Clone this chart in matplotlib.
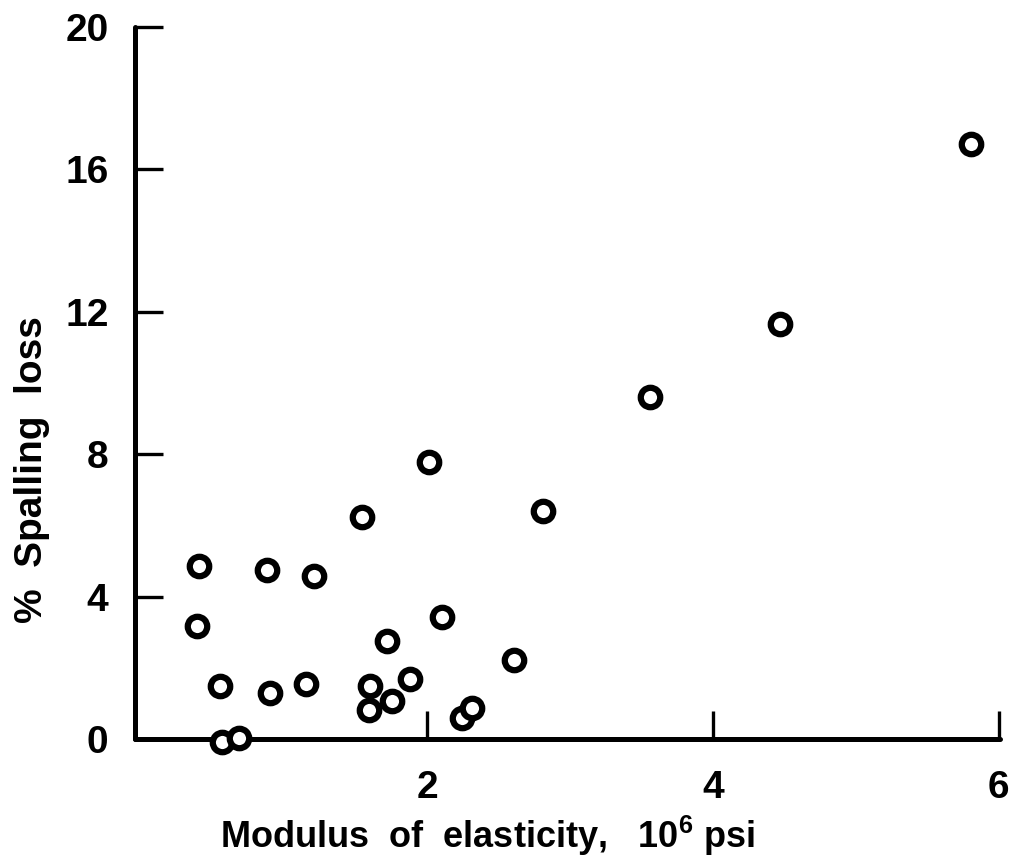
import matplotlib
matplotlib.use("Agg")
import matplotlib.pyplot as plt

# Data
modulus = [0.40, 0.39, 0.55, 0.56, 0.68, 0.88, 0.90, 1.15, 1.21, 1.54, 1.59, 1.60,
           1.75, 1.72, 1.88, 2.01, 2.10, 2.24, 2.31, 2.61, 2.81, 3.56, 4.47, 5.81]
spalling = [4.86, 3.17, 1.49, -0.08, 0.03, 4.75, 1.29, 1.54, 4.58, 6.24, 0.81, 1.49,
            1.07, 2.75, 1.69, 7.78, 3.43, 0.59, 0.87, 2.22, 6.40, 9.60, 11.66, 16.71]
xticks = [2, 4, 6]
yticks = [0, 4, 8, 12, 16, 20]

plt.rcParams['font.family'] = ['Liberation Sans', 'DejaVu Sans']
plt.rcParams['font.weight'] = 'bold'
plt.rcParams['mathtext.fontset'] = 'custom'
plt.rcParams['mathtext.rm'] = 'Liberation Sans:bold'
plt.rcParams['mathtext.bf'] = 'Liberation Sans:bold'
plt.rcParams['mathtext.default'] = 'rm'

fig = plt.figure(figsize=(10.17, 8.66), dpi=100)
ax = fig.add_axes([135/1017, 1 - 739/866, 865/1017, 712/866])

ax.plot(modulus, spalling, linestyle='none', marker='o', markersize=14,
        markerfacecolor='white', markeredgecolor='black', markeredgewidth=4.5,
        clip_on=False, zorder=3)

ax.set_xlim(-0.046, 6.01)
ax.set_ylim(0, 20)
ax.set_xticks(xticks)
ax.set_yticks(yticks)
ax.set_xticklabels([str(t) for t in xticks])
ax.set_yticklabels([str(t) for t in yticks])

for s in ['top', 'right']:
    ax.spines[s].set_visible(False)
for s in ['left', 'bottom']:
    ax.spines[s].set_linewidth(3.6)
    ax.spines[s].set_capstyle('round')

ax.tick_params(axis='both', direction='in', length=20, width=2.4,
               labelsize=28, colors='black')
ax.tick_params(axis='y', pad=19)
ax.tick_params(axis='x', pad=22)

ax.set_xlabel('Modulus  of  elasticity,   10$^{6}$ psi', fontsize=26, fontweight='bold')
ax.set_ylabel('%  Spalling  loss', fontsize=28, fontweight='bold')
ax.xaxis.set_label_coords(0.407, -0.136)
ax.yaxis.set_label_coords(-0.119, 0.378)
ax.xaxis.label.set_va('center')
ax.yaxis.label.set_va('center')

fig.savefig('out.png', dpi=100, facecolor='white')
